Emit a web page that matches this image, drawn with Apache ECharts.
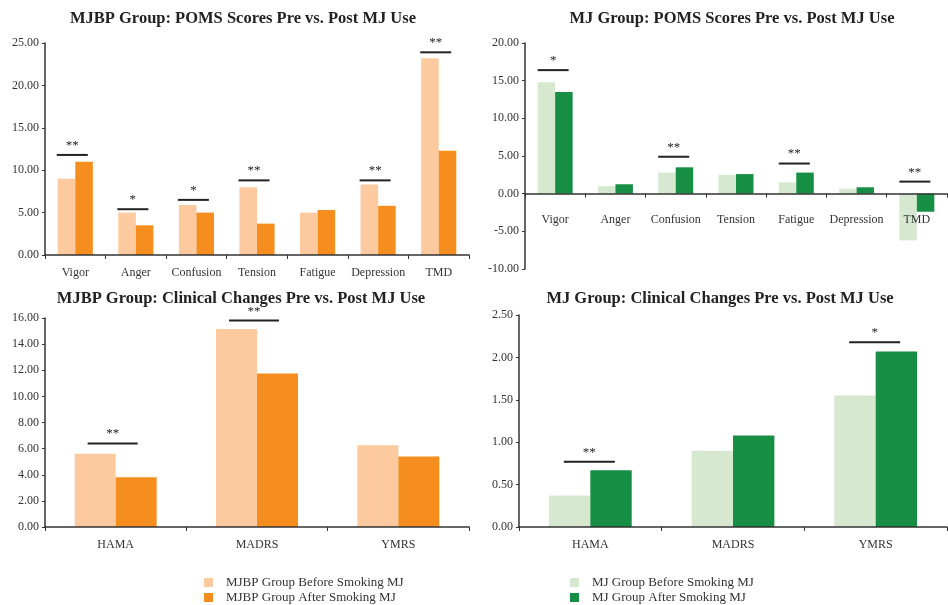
<!DOCTYPE html>
<html>
<head>
<meta charset="utf-8">
<script src="https://cdn.jsdelivr.net/npm/echarts@6/dist/echarts.min.js"></script>
<style>
  html, body { margin: 0; padding: 0; background: #fff; }
  #main { width: 948px; height: 605px; }
</style>
</head>
<body>
<div id="main"></div>
<script>
// categories
var pomsCats = ['Vigor', 'Anger', 'Confusion', 'Tension', 'Fatigue', 'Depression', 'TMD'];
var clinCats = ['HAMA', 'MADRS', 'YMRS'];

// MJBP group, POMS
var mjbpPomsPre  = [9.0, 5.0, 5.9, 8.0, 5.0, 8.3, 23.2];
var mjbpPomsPost = [11.0, 3.5, 5.0, 3.7, 5.3, 5.8, 12.3];
var mjbpPomsSig  = ['**', '*', '*', '**', '', '**', '**'];
var mjbpPomsSigY = [11.8, 5.4, 6.5, 8.8, null, 8.8, 23.9];

// MJ group, POMS
var mjPomsPre  = [14.8, 1.0, 2.8, 2.5, 1.5, 0.65, -6.2];
var mjPomsPost = [13.5, 1.25, 3.5, 2.6, 2.8, 0.85, -2.4];
var mjPomsSig  = ['*', '', '**', '', '**', '', '**'];
var mjPomsSigY = [16.4, null, 4.9, null, 4.0, null, 1.6];

// MJBP group, clinical
var mjbpClinPre  = [5.6, 15.15, 6.25];
var mjbpClinPost = [3.8, 11.75, 5.4];
var mjbpClinSig  = ['**', '**', ''];
var mjbpClinSigY = [6.4, 15.8, null];

// MJ group, clinical
var mjClinPre  = [0.37, 0.90, 1.55];
var mjClinPost = [0.67, 1.08, 2.07];
var mjClinSig  = ['**', '', '*'];
var mjClinSigY = [0.77, null, 2.18];

var serif = 'Liberation Serif, Times New Roman, serif';
var peach = '#FCCA9E', orange = '#F68E1F';
var paleGreen = '#D6E9D0', green = '#168F45';

function sigData(ys) {
  var res = [];
  ys.forEach(function (v, i) {
    if (v !== null) res.push([i, v]);
  });
  return res;
}

// significance line + stars above a category
function sigSeries(idx, ys, labels, halfW, dx) {
  var data = sigData(ys);
  return {
    type: 'custom',
    xAxisIndex: idx,
    yAxisIndex: idx,
    z: 5,
    silent: true,
    data: data,
    renderItem: function (params, api) {
      var p = api.coord([api.value(0), api.value(1)]);
      var x = p[0] + dx;
      return {
        type: 'group',
        children: [
          {
            type: 'line',
            shape: { x1: x - halfW, y1: p[1], x2: x + halfW, y2: p[1] },
            style: { stroke: '#222', lineWidth: 2 }
          },
          {
            type: 'text',
            style: {
              text: labels[data[params.dataIndex][0]],
              x: x, y: p[1] - 3,
              textAlign: 'center', textVerticalAlign: 'bottom',
              font: '13px ' + serif, fill: '#222'
            }
          }
        ]
      };
    }
  };
}

function xAx(idx, cats, margin) {
  return {
    type: 'category', gridIndex: idx, data: cats, z: 6,
    axisLine: { lineStyle: { color: '#333', width: 1.5 } },
    axisTick: { show: true, length: 4, lineStyle: { color: '#333' } },
    axisLabel: { color: '#333', fontFamily: serif, fontSize: 12, margin: margin, interval: 0 }
  };
}

function yAx(idx, min, max, interval) {
  return {
    type: 'value', gridIndex: idx, min: min, max: max, interval: interval,
    splitLine: { show: false },
    axisLine: { show: true, lineStyle: { color: '#333', width: 1.5 } },
    axisTick: { show: true, length: 3, lineStyle: { color: '#333' } },
    axisLabel: {
      color: '#333', fontFamily: serif, fontSize: 12, margin: 6,
      formatter: function (v) { return v.toFixed(2); }
    }
  };
}

function bar(name, idx, data, color) {
  return {
    name: name, type: 'bar', xAxisIndex: idx, yAxisIndex: idx, data: data,
    barGap: '0%', barCategoryGap: '42%',
    itemStyle: { color: color }
  };
}

var titleStyle = { fontFamily: serif, fontWeight: 'bold', fontSize: 16.5, color: '#222' };
var legendText = { fontFamily: serif, fontSize: 13, lineHeight: 13, color: '#333', padding: [0, 0, 0, 8] };

var option = {
  animation: false,
  backgroundColor: '#fff',
  title: [
    { text: 'MJBP Group: POMS Scores Pre vs. Post MJ Use', left: 243, top: 10, padding: 0, textAlign: 'center', textStyle: titleStyle },
    { text: 'MJ Group: POMS Scores Pre vs. Post MJ Use', left: 732, top: 10, padding: 0, textAlign: 'center', textStyle: titleStyle },
    { text: 'MJBP Group: Clinical Changes Pre vs. Post MJ Use', left: 241, top: 290, padding: 0, textAlign: 'center', textStyle: titleStyle },
    { text: 'MJ Group: Clinical Changes Pre vs. Post MJ Use', left: 720, top: 290, padding: 0, textAlign: 'center', textStyle: titleStyle }
  ],
  legend: [
    {
      data: ['MJBP Group Before Smoking MJ', 'MJBP Group After Smoking MJ'],
      orient: 'vertical', left: 204, top: 576, itemGap: 2, padding: 0,
      itemWidth: 9, itemHeight: 9, icon: 'rect', textStyle: legendText
    },
    {
      data: ['MJ Group Before Smoking MJ', 'MJ Group After Smoking MJ'],
      orient: 'vertical', left: 570, top: 576, itemGap: 2, padding: 0,
      itemWidth: 9, itemHeight: 9, icon: 'rect', textStyle: legendText
    }
  ],
  grid: [
    { left: 45, right: 479, top: 43, bottom: 350 },
    { left: 525, right: 1, top: 43, bottom: 336 },
    { left: 45, right: 479, top: 318, bottom: 78 },
    { left: 519, right: 1, top: 315, bottom: 78 }
  ],
  xAxis: [
    xAx(0, pomsCats, 12),
    xAx(1, pomsCats, -55),
    xAx(2, clinCats, 12),
    xAx(3, clinCats, 12)
  ],
  yAxis: [
    yAx(0, 0, 25, 5),
    yAx(1, -10, 20, 5),
    yAx(2, 0, 16, 2),
    yAx(3, 0, 2.5, 0.5)
  ],
  series: [
    bar('MJBP Group Before Smoking MJ', 0, mjbpPomsPre, peach),
    bar('MJBP Group After Smoking MJ', 0, mjbpPomsPost, orange),
    bar('MJ Group Before Smoking MJ', 1, mjPomsPre, paleGreen),
    bar('MJ Group After Smoking MJ', 1, mjPomsPost, green),
    bar('MJBP Group Before Smoking MJ', 2, mjbpClinPre, peach),
    bar('MJBP Group After Smoking MJ', 2, mjbpClinPost, orange),
    bar('MJ Group Before Smoking MJ', 3, mjClinPre, paleGreen),
    bar('MJ Group After Smoking MJ', 3, mjClinPost, green),
    sigSeries(0, mjbpPomsSigY, mjbpPomsSig, 15.5, -3),
    sigSeries(1, mjPomsSigY, mjPomsSig, 15.5, -2),
    sigSeries(2, mjbpClinSigY, mjbpClinSig, 25, -3),
    sigSeries(3, mjClinSigY, mjClinSig, 25.5, -1)
  ]
};

var chart = echarts.init(document.getElementById('main'));
chart.setOption(option);
</script>
</body>
</html>
